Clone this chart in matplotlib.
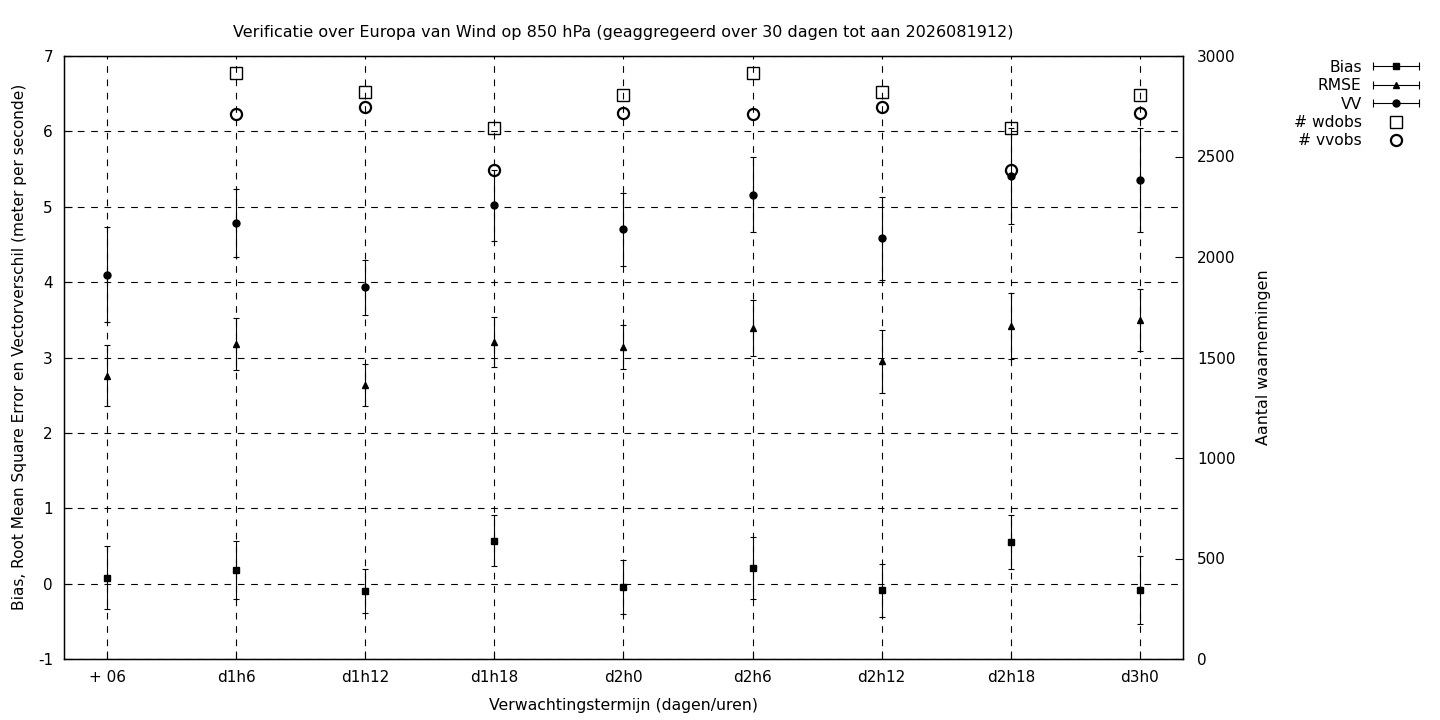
"""Verificatie wind 850 hPa: bias, RMSE, VV met foutbalken en aantallen waarnemingen."""

import matplotlib
import matplotlib.pyplot as plt
import numpy as np
from matplotlib.legend_handler import HandlerBase
from matplotlib.lines import Line2D

matplotlib.use("Agg")

leadtimes = ["+ 06", "d1h6", "d1h12", "d1h18", "d2h0", "d2h6", "d2h12", "d2h18", "d3h0"]

bias = [0.08, 0.18, -0.10, 0.57, -0.04, 0.21, -0.09, 0.55, -0.09]
bias_err = [0.42, 0.39, 0.29, 0.34, 0.36, 0.41, 0.35, 0.36, 0.45]

rmse = [2.76, 3.18, 2.63, 3.21, 3.14, 3.39, 2.95, 3.42, 3.50]
rmse_err = [0.40, 0.34, 0.28, 0.33, 0.29, 0.37, 0.42, 0.44, 0.41]

vv = [4.10, 4.78, 3.93, 5.02, 4.70, 5.16, 4.58, 5.41, 5.36]
vv_err = [0.635, 0.45, 0.37, 0.47, 0.48, 0.50, 0.55, 0.64, 0.69]

wdobs = [np.nan, 2913, 2819, 2640, 2804, 2913, 2819, 2640, 2804]
vvobs = [np.nan, 2710, 2745, 2433, 2715, 2710, 2745, 2433, 2715]


class ErrorbarKeyHandler(HandlerBase):
    """Gnuplot-achtige legendasleutel: horizontale lijn met kapjes en een marker in het midden."""

    def create_artists(self, legend, orig_handle, xdescent, ydescent, width, height, fontsize, trans):
        y = height / 2 - ydescent
        x0, x1 = -xdescent, width - xdescent
        bar = Line2D([x0, x1], [y, y], color="black", lw=0.8, marker="|", markersize=6,
                     markeredgewidth=0.8, transform=trans)
        dot = Line2D([(x0 + x1) / 2], [y], ls="none", marker=orig_handle.get_marker(),
                     markersize=orig_handle.get_markersize(), color="black", transform=trans)
        return [bar, dot]


plt.rcParams["font.family"] = ["DejaVu Sans"]
plt.rcParams["font.size"] = 11
plt.rcParams["axes.unicode_minus"] = False

fig = plt.figure(figsize=(14.4, 7.2), dpi=100)
ax = fig.add_axes([64 / 1440, 1 - 659 / 720, (1183 - 64) / 1440, (659 - 56) / 720])
ax2 = ax.twinx()

x = np.arange(len(leadtimes))
eb_kw = dict(color="black", capsize=2.5, elinewidth=0.8, capthick=0.8, ls="none")
ax.errorbar(x, bias, yerr=bias_err, marker="s", ms=5, **eb_kw)
ax.errorbar(x, rmse, yerr=rmse_err, marker="^", ms=5, **eb_kw)
ax.errorbar(x, vv, yerr=vv_err, marker="o", ms=5, **eb_kw)

ax2.plot(x, wdobs, ls="none", marker="s", ms=8.5, mfc="none", mec="black", mew=1.0)
ax2.plot(x, vvobs, ls="none", marker="o", ms=8, mfc="none", mec="black", mew=1.6)

ax.set_xlim(-1 / 3, len(leadtimes) - 1 + 1 / 3)
ax.set_ylim(-1, 7)
ax.set_yticks(range(-1, 8))
ax.set_xticks(x)
ax.set_xticklabels(leadtimes)
ax2.set_ylim(0, 3000)
ax2.set_yticks(range(0, 3001, 500))

ax.grid(True, color="black", ls=(0, (6, 6)), lw=0.8)
ax.tick_params(direction="in", length=6, width=0.8, pad=8)
ax2.tick_params(direction="in", length=6, width=0.8, pad=10)
for sp in ax.spines.values():
    sp.set_linewidth(1.0)

ax.set_title("Verificatie over Europa van Wind op 850 hPa (geaggregeerd over 30 dagen tot aan 2026081912)",
             fontsize=11.5, pad=14)
ax.set_xlabel("Verwachtingstermijn (dagen/uren)", fontsize=11.3, labelpad=9)
ax.set_ylabel("Bias, Root Mean Square Error en Vectorverschil (meter per seconde)", fontsize=11.1)
ax.yaxis.set_label_coords(-0.0335, 0.517)
ax2.set_ylabel("Aantal waarnemingen", fontsize=11.4)
ax2.yaxis.set_label_coords(1.0652, 0.5)

key_bias = Line2D([], [], marker="s", markersize=5)
key_rmse = Line2D([], [], marker="^", markersize=5)
key_vv = Line2D([], [], marker="o", markersize=5)
key_wd = Line2D([], [], ls="none", marker="s", markersize=8.5, mfc="none", mec="black", mew=1.0)
key_vvo = Line2D([], [], ls="none", marker="o", markersize=8, mfc="none", mec="black", mew=1.6)

fig.legend([key_bias, key_rmse, key_vv, key_wd, key_vvo],
           ["Bias", "RMSE", "VV", "# wdobs", "# vvobs"],
           handler_map={key_bias: ErrorbarKeyHandler(), key_rmse: ErrorbarKeyHandler(),
                        key_vv: ErrorbarKeyHandler()},
           loc="upper right", bbox_to_anchor=(1427 / 1440, 1 - 52 / 720), fontsize=11.2,
           frameon=False, markerfirst=False, borderpad=0, handlelength=3.0,
           handletextpad=0.7, labelspacing=0.22, numpoints=1)

fig.savefig("out.png", dpi=100)
